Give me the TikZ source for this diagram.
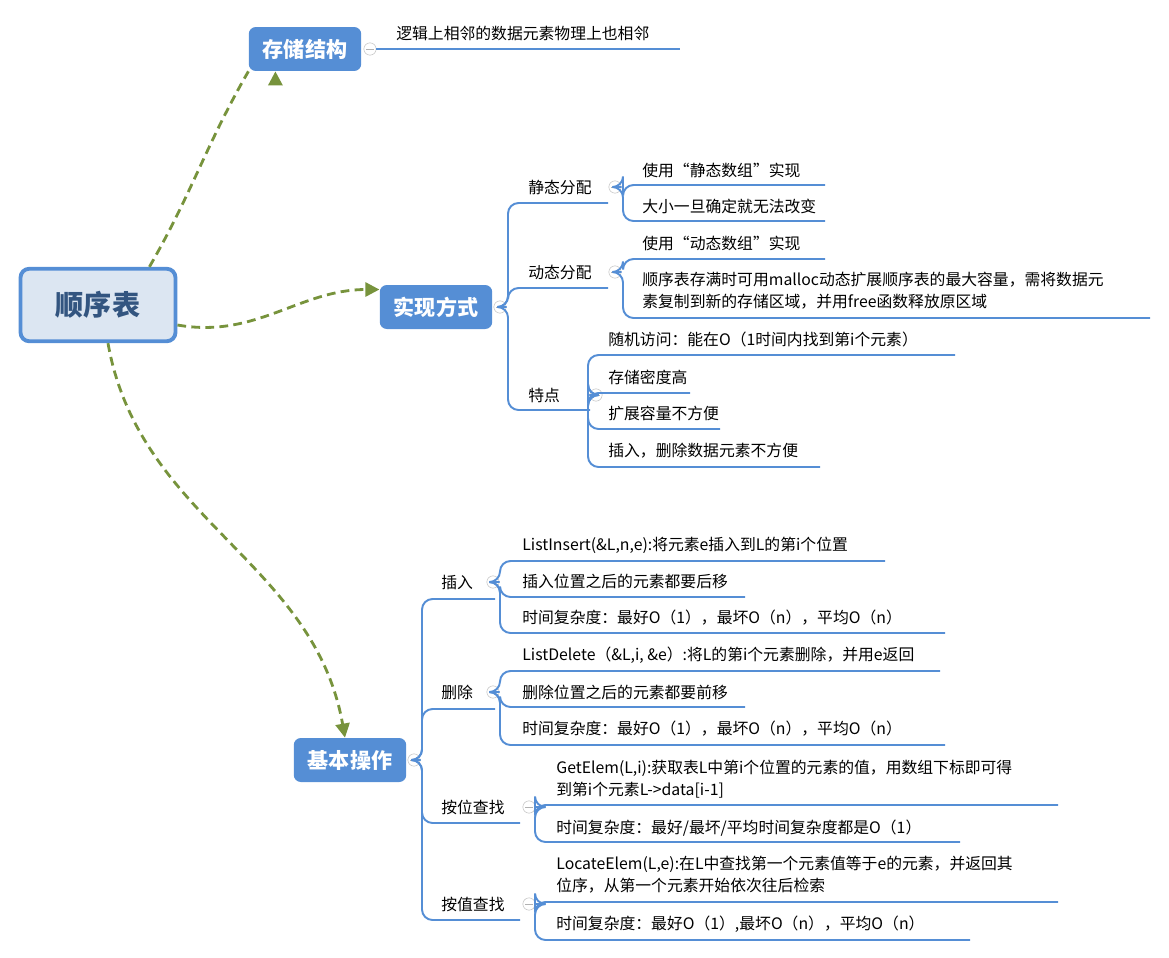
\documentclass[tikz,border=0pt]{standalone}
\usepackage{fontspec}
\setmainfont{Noto Sans CJK SC}
\usetikzlibrary{arrows.meta}
\definecolor{topicblue}{HTML}{558ED5}
\definecolor{rootfill}{HTML}{DCE6F2}
\definecolor{linkgreen}{HTML}{77933C}
\begin{document}
\begin{tikzpicture}[
		x=0.02cm, y=-0.02cm,
		root/.style={draw=topicblue, line width=2.2pt, fill=rootfill, rounded corners=5pt,
			minimum width=3.1cm, minimum height=1.45cm, font=\fontsize{16}{18}\selectfont\bfseries, text=topicblue!60!black},
		topic/.style={fill=topicblue, rounded corners=4pt, minimum width=2.25cm, minimum height=0.88cm,
			text=white, font=\fontsize{12}{14}\selectfont\bfseries},
		leaf/.style={anchor=west, inner sep=0pt, font=\fontsize{9}{12.5}\selectfont, align=left},
		fold/.style={circle, draw=gray!50, fill=white, inner sep=0pt, minimum size=7pt, line width=0.3pt,
			path picture={\draw[gray!60] ([xshift=-2pt]path picture bounding box.center) -- ([xshift=2pt]path picture bounding box.center);}},
		br/.style={draw=topicblue, line width=1.1pt, rounded corners=6pt},
		L/.style={line width=1.6pt, draw=linkgreen, dashed, dash pattern=on 5pt off 3pt, -{Triangle[length=8pt,width=8pt,fill=linkgreen]}}
		]
		\useasboundingbox (0,0) rectangle (1169,957);
		
		% main topics
		\node[root] (seq) at (98,305) {顺序表};
		\node[topic] (store) at (305,49) {存储结构};
		\node[topic] (impl) at (436,307) {实现方式};
		\node[topic] (ops) at (350,760) {基本操作};
		
		\draw[L] (seq.north east) ++(-28,0) to[out=60, in=240] (store.south west) ++(27,0);
		\draw[L] ([yshift=-0.4cm]seq.east) to[out=-10, in=180] ([yshift=0.35cm]impl.west);
		\draw[L] ([xshift=0.2cm]seq.south) to[out=-80, in=100] ([xshift=-0.1cm]ops.north);
		
		% fold markers
		\node[fold] (fStore) at (370,49) {};
		\node[fold] (fImpl) at (500,307) {};
		\node[fold] (fStatic) at (615,187) {};
		\node[fold] (fDyn) at (615,272) {};
		\node[fold] (fFeat) at (596,395) {};
		\node[fold] (fOps) at (414,760) {};
		\node[fold] (fIns) at (493,582) {};
		\node[fold] (fDel) at (493,692) {};
		\node[fold] (fPos) at (529,807) {};
		\node[fold] (fVal) at (529,904) {};
		
		% 存储结构
		\draw[br] (fStore.east) -- (680,49);
		\node[leaf] (s1) at (396,33) {逻辑上相邻的数据元素物理上也相邻};
		
		% 实现方式
		\foreach \y/\e in {203/608, 288/608, 410/590}
			\draw[br] (fImpl.east) -- (508,307) |- (\e,\y);
		\node[leaf] (static) at (528,187) {静态分配};
		\node[leaf] (dyn) at (528,272) {动态分配};
		\node[leaf] (feat) at (528,395) {特点};
		
		\foreach \y/\e in {185/825, 221/825}
			\draw[br] (fStatic.east) -- (623,187) |- (\e,\y);
		\node[leaf] (st1) at (642,170) {使用“静态数组”实现};
		\node[leaf] (st2) at (642,206) {大小一旦确定就无法改变};
		
		\foreach \y/\e in {259/825, 318/1150}
			\draw[br] (fDyn.east) -- (623,272) |- (\e,\y);
		\node[leaf] (dy1) at (642,243) {使用“动态数组”实现};
		\node[leaf] (dy2) at (642,291) {顺序表存满时可用malloc动态扩展顺序表的最大容量，需将数据元\\素复制到新的存储区域，并用free函数释放原区域};
		
		\foreach \y/\e in {355/955, 393/690, 429/720, 467/820}
			\draw[br] (fFeat.west) -- (588,395) |- (\e,\y);
		\node[leaf] (ft1) at (608,339) {随机访问：能在O（1时间内找到第i个元素）};
		\node[leaf] (ft2) at (608,377) {存储密度高};
		\node[leaf] (ft3) at (608,413) {扩展容量不方便};
		\node[leaf] (ft4) at (608,451) {插入，删除数据元素不方便};
		
		% 基本操作
		\foreach \y/\e in {599/495, 709/495, 823/520, 920/520}
			\draw[br] (fOps.east) -- (422,760) |- (\e,\y);
		\node[leaf] (ins) at (441,582) {插入};
		\node[leaf] (del) at (441,692) {删除};
		\node[leaf] (pos) at (441,807) {按位查找};
		\node[leaf] (val) at (441,904) {按值查找};
		
		\foreach \y/\e in {561/885, 597/745, 633/945}
			\draw[br] (fIns.east) -- (500,582) |- (\e,\y);
		\node[leaf] (in1) at (522,545) {ListInsert(\&L,n,e):将元素e插入到L的第i个位置};
		\node[leaf] (in2) at (522,581) {插入位置之后的元素都要后移};
		\node[leaf] (in3) at (522,618) {时间复杂度：最好O（1），最坏O（n），平均O（n）};
		
		\foreach \y/\e in {671/940, 707/745, 745/945}
			\draw[br] (fDel.east) -- (500,692) |- (\e,\y);
		\node[leaf] (de1) at (522,655) {ListDelete（\&L,i, \&e）:将L的第i个元素删除，并用e返回};
		\node[leaf] (de2) at (522,692) {删除位置之后的元素都要前移};
		\node[leaf] (de3) at (522,729) {时间复杂度：最好O（1），最坏O（n），平均O（n）};
		
		\foreach \y/\e in {805/1058, 842/960}
			\draw[br] (fPos.east) -- (535,807) |- (\e,\y);
		\node[leaf] (po1) at (556,779) {GetElem(L,i):获取表L中第i个位置的元素的值，用数组下标即可得\\到第i个元素L->data[i-1]};
		\node[leaf] (po2) at (556,828) {时间复杂度：最好/最坏/平均时间复杂度都是O（1）};
		
		\foreach \y/\e in {902/1058, 940/970}
			\draw[br] (fVal.east) -- (535,904) |- (\e,\y);
		\node[leaf] (va1) at (556,875) {LocateElem(L,e):在L中查找第一个元素值等于e的元素，并返回其\\位序，从第一个元素开始依次往后检索};
		\node[leaf] (va2) at (556,924) {时间复杂度：最好O（1）,最坏O（n），平均O（n）};
		
		\end{tikzpicture}
\end{document}
